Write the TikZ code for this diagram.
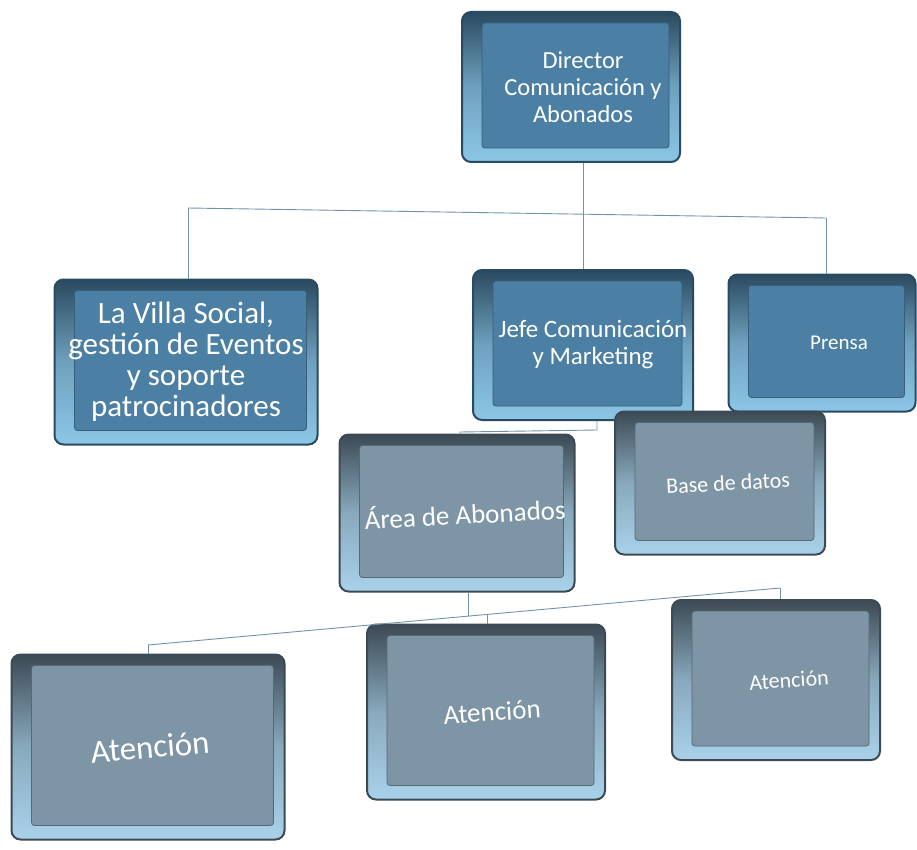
\documentclass[tikz,border=0pt]{standalone}
\usepackage{fontspec}
\setmainfont{Carlito}
\usepackage{graphicx}
\definecolor{bface}{HTML}{4B7FA3}
\definecolor{bdark}{HTML}{2A4A60}
\definecolor{blight}{HTML}{8CC6E6}
\definecolor{gface}{HTML}{7E95A5}
\definecolor{gdark}{HTML}{3C4A54}
\definecolor{glight}{HTML}{A9D2EA}
\definecolor{conn}{HTML}{7193A6}
\tikzset{
  x=1pt, y=-1pt,
  orgbox/.style args={#1/#2/#3}{
    rounded corners=9pt, draw=#2, line width=2pt,
    top color=#2, bottom color=#3, middle color=#3!70!#2,
    text=white, align=center, inner sep=0pt,
    path picture={
      \fill[#1, rounded corners=3pt, draw=#2!60!#1, line width=0.8pt]
        ([shift={(20pt,-11pt)}]path picture bounding box.north west)
        rectangle ([shift={(-11pt,14pt)}]path picture bounding box.south east);
    }},
  bluebox/.style={orgbox=bface/bdark/blight},
  graybox/.style={orgbox=gface/gdark/glight},
  link/.style={draw=conn, line width=0.9pt},
}
\begin{document}
\begin{tikzpicture}
\useasboundingbox (0,0) rectangle (917,850);
% boxes
\node[bluebox, minimum width=218pt, minimum height=150pt, font=\fontsize{24.5}{27}\selectfont] (dir) at (571,87)
  {\hspace*{24pt}Director\\\hspace*{24pt}Comunicación y\\\hspace*{24pt}Abonados};
\node[bluebox, minimum width=263pt, minimum height=165pt, font=\fontsize{31}{31}\selectfont] (villa) at (186,362)
  {La Villa Social,\\gestión de Eventos\\y soporte\\patrocinadores};
\node[bluebox, minimum width=220pt, minimum height=150pt, font=\fontsize{25}{27}\selectfont] (jefe) at (583,345)
  {\hspace*{20pt}Jefe Comunicación\\\hspace*{20pt}y Marketing};
\node[bluebox, minimum width=187pt, minimum height=137pt, font=\fontsize{21}{24}\selectfont] (prensa) at (822,343)
  {\hspace*{34pt}Prensa};
\node[graybox, minimum width=235pt, minimum height=157pt, font=\fontsize{27}{30}\selectfont] (area) at (457,513)
  {\hspace*{16pt}\rotatebox{3}{Área de Abonados}};
\node[graybox, minimum width=210pt, minimum height=143pt, font=\fontsize{22}{26}\selectfont] (base) at (720,483)
  {\hspace*{16pt}\rotatebox{3}{Base de datos}};
\node[graybox, minimum width=273pt, minimum height=185pt, font=\fontsize{33}{36}\selectfont] (at1) at (148,747)
  {\hspace*{4pt}\rotatebox{5}{Atención}};
\node[graybox, minimum width=238pt, minimum height=175pt, font=\fontsize{27}{30}\selectfont] (at2) at (486,712)
  {\hspace*{12pt}\rotatebox{4}{Atención}};
\node[graybox, minimum width=208pt, minimum height=160pt, font=\fontsize{22}{26}\selectfont] (at3) at (776,680)
  {\hspace*{26pt}\rotatebox{4}{Atención}};
% junctions
\coordinate (hl) at (188,208);
\coordinate (hr) at (826,218);
\coordinate (j1) at (583,214);
\coordinate (k1) at (597,430);
\coordinate (k2) at (460,432);
\coordinate (L) at (148,645);
\coordinate (R) at (780,588);
\coordinate (a1) at (468,616);
\coordinate (m) at (487,614);
% connectors
\draw[link] (j1 |- dir.south) -- (j1);
\draw[link] (hl) -- (hr);
\draw[link] (hl) -- (hl |- villa.north);
\draw[link] (j1) -- (j1 |- jefe.north);
\draw[link] (hr) -- (hr |- prensa.north);
\draw[link] (k1 |- jefe.south) -- (k1) -- (k2) -- (k2 |- area.north);
\draw[link] (a1 |- area.south) -- (a1);
\draw[link] (L) -- (R);
\draw[link] (L) -- (L |- at1.north);
\draw[link] (m) -- (m |- at2.north);
\draw[link] (R) -- (R |- at3.north);
\end{tikzpicture}
\end{document}
